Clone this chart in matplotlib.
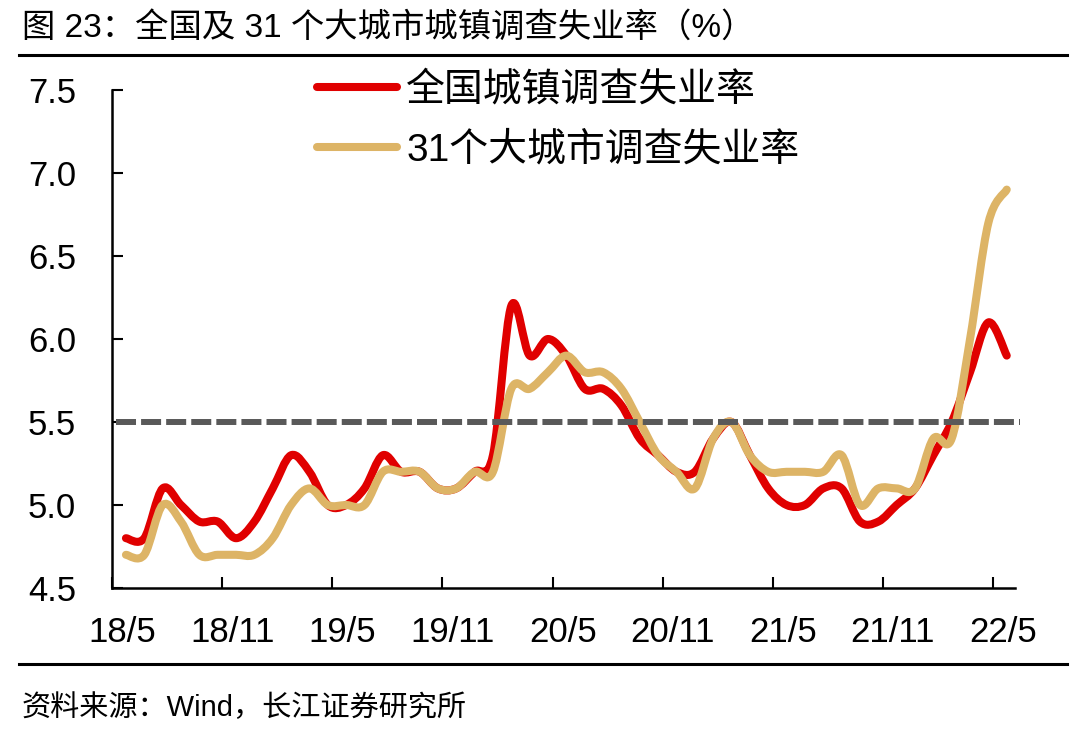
import numpy as np
import matplotlib
matplotlib.use('Agg')
import matplotlib.pyplot as plt
from matplotlib.path import Path
from matplotlib.patches import PathPatch
from matplotlib.lines import Line2D

plt.rcParams['font.family'] = ['Liberation Sans', 'Noto Sans CJK SC']

# monthly data, 2018/5 .. 2022/5
tick_labels = ['18/5', '18/11', '19/5', '19/11', '20/5', '20/11', '21/5', '21/11', '22/5']
national = [4.8, 4.8, 5.1, 5.0, 4.9, 4.9, 4.8, 4.9,
            5.1, 5.3, 5.2, 5.0, 5.0, 5.1, 5.3, 5.2, 5.2, 5.1, 5.1, 5.2,
            5.3, 6.2, 5.9, 6.0, 5.9, 5.7, 5.7, 5.6, 5.4, 5.3, 5.2, 5.2,
            5.4, 5.5, 5.3, 5.1, 5.0, 5.0, 5.1, 5.1, 4.9, 4.9, 5.0, 5.1,
            5.3, 5.5, 5.8, 6.1, 5.9]
city31 = [4.7, 4.7, 5.0, 4.9, 4.7, 4.7, 4.7, 4.7,
          4.8, 5.0, 5.1, 5.0, 5.0, 5.0, 5.2, 5.2, 5.2, 5.1, 5.1, 5.2,
          5.2, 5.7, 5.7, 5.8, 5.9, 5.8, 5.8, 5.7, 5.5, 5.3, 5.2, 5.1,
          5.4, 5.5, 5.3, 5.2, 5.2, 5.2, 5.2, 5.3, 5.0, 5.1, 5.1, 5.1,
          5.4, 5.4, 6.0, 6.7, 6.9]
ref_level = 5.5

RED = '#E00000'
GOLD = '#DDB466'
GREY = '#595959'


def smooth_path(x, y):
    # excel style smoothed line (catmull-rom as cubic bezier)
    pts = np.column_stack([x, y])
    n = len(pts)
    verts = [pts[0]]
    codes = [Path.MOVETO]
    for i in range(n - 1):
        p0 = pts[max(i - 1, 0)]
        p1 = pts[i]
        p2 = pts[i + 1]
        p3 = pts[min(i + 2, n - 1)]
        verts += [p1 + (p2 - p0) / 6, p2 - (p3 - p1) / 6, p2]
        codes += [Path.CURVE4] * 3
    return Path(verts, codes)


fig = plt.figure(figsize=(10.8, 7.32), dpi=100)
ax = fig.add_axes([112 / 1080, 1 - 588 / 732, 903 / 1080, 498 / 732])

x = np.arange(len(national))
for vals, col in [(national, RED), (city31, GOLD)]:
    ax.add_patch(PathPatch(smooth_path(x, vals), fill=False, edgecolor=col,
                           lw=5.8, capstyle='round', joinstyle='round'))

ax.axhline(ref_level, xmin=0.004, xmax=1.006, color=GREY, lw=4.3,
           dashes=(3.35, 0.85), dash_capstyle='butt', clip_on=False, zorder=3)

ax.set_xlim(-0.76, 48.45)
ax.set_ylim(4.5, 7.5)

for s in ['top', 'right']:
    ax.spines[s].set_visible(False)
for s in ['left', 'bottom']:
    ax.spines[s].set_linewidth(1.8)

ax.set_xticks(np.arange(0, 49, 6) - 0.75)
ax.set_xticklabels([])
ax.set_xticks(np.arange(0, 49, 6) - 0.2, minor=True)
ax.set_xticklabels(tick_labels, minor=True)
ax.tick_params(axis='x', which='major', direction='in', length=8, width=1.5)
ax.tick_params(axis='x', which='minor', length=0, pad=20, labelsize=25)

ax.set_yticks(np.arange(4.5, 7.51, 0.5))
ax.set_yticklabels(['%.1f' % v for v in np.arange(4.5, 7.51, 0.5)])
ax.tick_params(axis='y', direction='in', length=8, width=1.5, pad=26, labelsize=25)

handles = [Line2D([], [], color=RED, lw=5.8, solid_capstyle='round'),
           Line2D([], [], color=GOLD, lw=5.8, solid_capstyle='round')]
ax.legend(handles, ['全国城镇调查失业率', '31个大城市调查失业率'],
          loc='upper left', bbox_to_anchor=(317 / 1080, 1 - 72 / 732),
          bbox_transform=fig.transFigure, frameon=False, fontsize=28,
          handlelength=2.05, handletextpad=0.25, labelspacing=0.6,
          borderpad=0, borderaxespad=0)

fig.text(22 / 1080, 1 - 28 / 732, '图 23：全国及 31 个大城市城镇调查失业率（%）',
         ha='left', va='center', fontsize=24)
fig.add_artist(Line2D([19 / 1080, 1067 / 1080], [1 - 55 / 732] * 2,
                      transform=fig.transFigure, color='black', lw=2.2))
fig.add_artist(Line2D([19 / 1080, 1067 / 1080], [1 - 664 / 732] * 2,
                      transform=fig.transFigure, color='black', lw=2.2))
fig.text(22 / 1080, 1 - 708 / 732, '资料来源：Wind，长江证券研究所',
         ha='left', va='center', fontsize=21)

fig.savefig('out.png', dpi=100)
